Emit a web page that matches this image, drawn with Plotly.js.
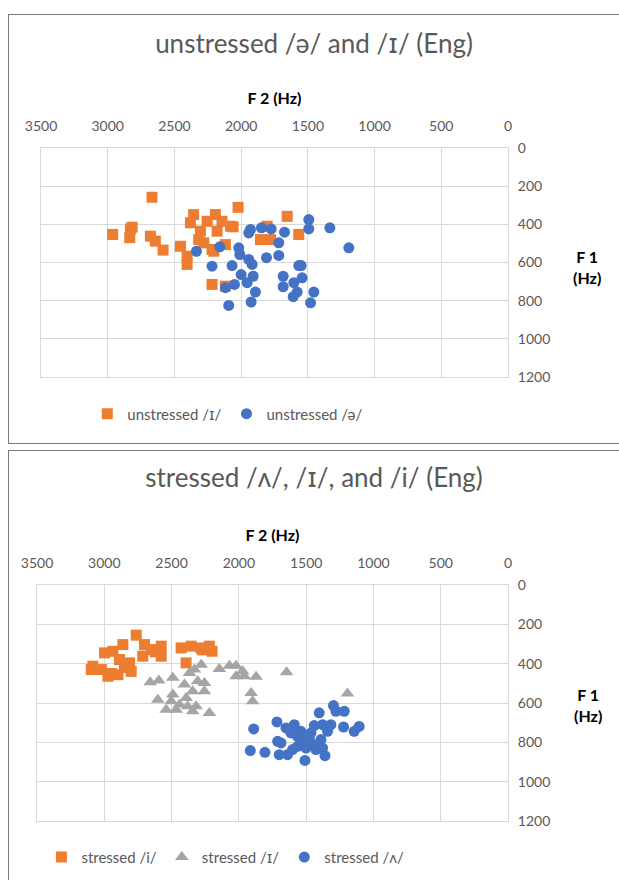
<!DOCTYPE html>
<html>
<head>
<meta charset="utf-8">
<script src="https://cdn.plot.ly/plotly-3.0.1.min.js"></script>
<style>
  html, body { margin: 0; padding: 0; background: #ffffff; overflow: hidden; width: 619px; height: 880px; }
  .panel { position: absolute; left: 8px; border-left: 1px solid #7a7a7a; border-top: 1px solid #7a7a7a; }
  #top { top: 14px; border-bottom: 1px solid #7a7a7a; }
  #bot { top: 450px; }
</style>
</head>
<body>
<div id="top" class="panel"></div>
<div id="bot" class="panel"></div>
<script>
// IPA small capital I drawn in a font that has the serifed glyph
const SMALL_I = '<span style="font-family:\'DejaVu Sans\'">ɪ</span>';

// ---- Data (F2 Hz, F1 Hz) ----
// Top chart: unstressed /ɪ/ and /ə/
const topTitle = 'unstressed /ə/ and /' + SMALL_I + '/ (Eng)';
const topNames = ['unstressed /' + SMALL_I + '/', 'unstressed /ə/'];
const topIF2 = [2963,2830,2817,2835,2668,2680,2643,2585,2455,2405,2405,2356,2380,2305,2318,2280,2255,2193,2143,2080,2180,2218,2118,2023,2218,2118,1805,1855,1780,1655,1568,2060,2205];
const topIF1 = [453,424,415,470,258,462,488,535,515,610,567,349,392,436,480,497,384,349,384,410,436,532,506,311,715,724,410,480,480,358,453,413,541];
const topSchwaF2 = [2335,2218,2160,2118,2093,2068,2050,2018,2010,2000,1955,1943,1930,1943,1918,1910,1893,1925,1848,1810,1775,1718,1718,1675,1685,1685,1605,1610,1580,1568,1550,1543,1493,1493,1455,1480,1335,1193];
const topSchwaF1 = [541,619,518,732,825,616,715,523,558,663,706,445,427,584,610,672,755,807,418,575,424,497,563,441,672,727,706,779,755,616,616,680,375,424,755,811,418,523];

// Bottom chart: stressed /i/, /ɪ/, /ʌ/
const botTitle = 'stressed /ʌ/, /' + SMALL_I + '/, and /i/ (Eng)';
const botNames = ['stressed /i/', 'stressed /' + SMALL_I + '/', 'stressed /ʌ/'];
const botIF2 = [2763,2862,2936,2998,3085,3097,3022,2973,2899,2948,2800,2812,2887,2701,2651,2577,2577,2714,2429,2392,2355,2281,2219,2199,2269,2620,2850];
const botIF1 = [255,303,337,345,413,430,430,464,456,450,439,396,379,303,328,311,362,362,320,396,311,320,311,337,330,340,420];
const botI2F2 = [2659,2595,2491,2367,2330,2280,2306,2404,2343,2256,2256,2491,2602,2503,2441,2540,2466,2392,2380,2343,2318,2219,2145,2070,2021,2021,1959,1972,1872,1909,1898,1645,1193];
const botI2F1 = [495,485,472,447,430,405,490,506,540,540,498,557,583,591,608,634,634,574,617,642,617,651,427,410,410,464,464,439,467,549,591,444,552];
const botAF2 = [1890,1915,1806,1717,1687,1700,1638,1650,1588,1613,1564,1564,1527,1501,1509,1477,1440,1427,1390,1378,1360,1440,1403,1378,1341,1316,1297,1279,1217,1222,1143,1106,1539,1464,1712,1601];
const botAF1 = [732,842,851,696,803,863,863,727,710,752,770,820,786,829,892,778,812,837,786,829,868,715,650,710,744,710,613,642,642,722,744,719,744,752,795,837];

const xTicks = [3500,3000,2500,2000,1500,1000,500,0];
const yTicks = [0,200,400,600,800,1000,1200];
const xTitle = '<b>F 2 (Hz)</b>';
const yTitle = '<b>F 1</b><br><b>(Hz)</b>';

// ---- Styles ----
const FONT = 'Lato, "Open Sans", "DejaVu Sans", sans-serif';
const TXT = '#595959';
const ORANGE = '#ED7D31', BLUE = '#4472C4', GRAY = '#A5A5A5';
const GRID = '#D9D9D9';

function axes() {
  return {
    xaxis: {
      range: [3500, 0], side: 'top', tickvals: xTicks, ticktext: xTicks.map(String),
      showgrid: true, gridcolor: GRID, gridwidth: 1, zeroline: false,
      showline: true, mirror: true, linecolor: GRID, linewidth: 1,
      ticks: 'outside', ticklen: 10, tickcolor: 'rgba(0,0,0,0)',
      tickfont: {family: FONT, size: 14, color: TXT},
      title: {text: xTitle, font: {family: FONT, size: 16, color: '#000'}, standoff: 8},
      automargin: false, fixedrange: true
    },
    yaxis: {
      range: [1200, 0], side: 'right', tickvals: yTicks, ticktext: yTicks.map(String),
      showgrid: true, gridcolor: GRID, gridwidth: 1, zeroline: false,
      showline: true, mirror: true, linecolor: GRID, linewidth: 1,
      ticks: 'outside', ticklen: 6, tickcolor: 'rgba(0,0,0,0)',
      tickfont: {family: FONT, size: 14, color: TXT},
      automargin: false, fixedrange: true
    }
  };
}

function baseLayout(title, w, h, margin, titleY, legY, legX, annY) {
  const a = axes();
  return Object.assign({
    width: w, height: h, margin: margin,
    paper_bgcolor: '#ffffff', plot_bgcolor: '#ffffff',
    font: {family: FONT, color: TXT},
    title: {text: title, font: {family: FONT, size: 26, color: TXT}, x: 0.5, xref: 'container', y: titleY, yref: 'container', yanchor: 'middle'},
    showlegend: true,
    legend: {orientation: 'h', x: legX, xanchor: 'center', xref: 'paper', y: legY, yref: 'container', yanchor: 'middle', font: {family: FONT, size: 15, color: TXT}, itemwidth: 30, bgcolor: 'rgba(0,0,0,0)'},
    annotations: [{text: yTitle, xref: 'paper', yref: 'paper', x: 1.17, y: annY, xanchor: 'center', yanchor: 'middle', showarrow: false, align: 'center', font: {family: FONT, size: 16, color: '#000'}}]
  }, a);
}

const cfg = {displayModeBar: false, staticPlot: true};

// Top chart
const topData = [
  {type: 'scatter', mode: 'markers', name: topNames[0], x: topIF2, y: topIF1,
   marker: {symbol: 'square', size: 11, color: ORANGE, line: {width: 0}}},
  {type: 'scatter', mode: 'markers', name: topNames[1], x: topSchwaF2, y: topSchwaF1,
   marker: {symbol: 'circle', size: 11, color: BLUE, line: {width: 0}}}
];
Plotly.newPlot('top', topData,
  baseLayout(topTitle, 610, 428, {l: 32, r: 111, t: 133, b: 66, pad: 0}, 0.932, 0.068, 0.40, 0.48), cfg);

// Bottom chart
const botData = [
  {type: 'scatter', mode: 'markers', name: botNames[0], x: botIF2, y: botIF1,
   marker: {symbol: 'square', size: 11, color: ORANGE, line: {width: 0}}},
  {type: 'scatter', mode: 'markers', name: botNames[1], x: botI2F2, y: botI2F1,
   marker: {symbol: 'triangle-up', size: 12, color: GRAY, line: {width: 0}}},
  {type: 'scatter', mode: 'markers', name: botNames[2], x: botAF2, y: botAF1,
   marker: {symbol: 'circle', size: 11, color: BLUE, line: {width: 0}}}
];
Plotly.newPlot('bot', botData,
  baseLayout(botTitle, 610, 430, {l: 28, r: 111, t: 134, b: 60, pad: 0}, 0.937, 0.055, 0.40, 0.49), cfg);
</script>
</body>
</html>
